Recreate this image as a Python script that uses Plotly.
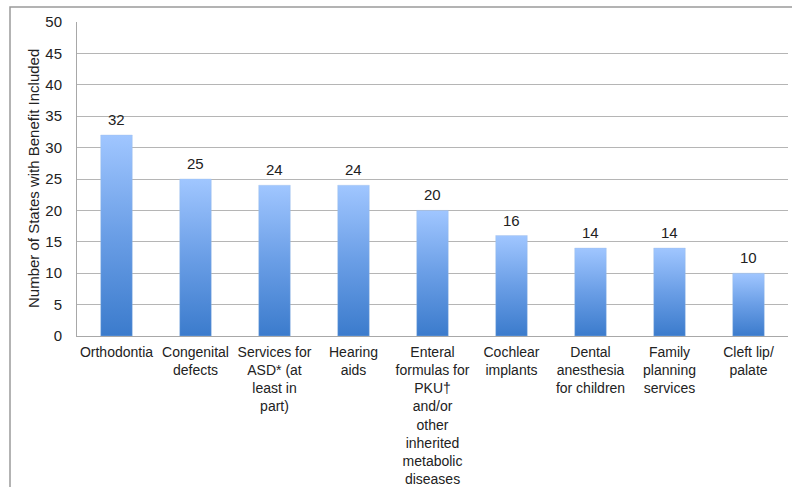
import plotly.graph_objects as go

# Benefits and the number of states that include each one
categories = [
    "Orthodontia",
    "Congenital<br>defects",
    "Services for<br>ASD* (at<br>least in<br>part)",
    "Hearing<br>aids",
    "Enteral<br>formulas for<br>PKU†<br>and/or<br>other<br>inherited<br>metabolic<br>diseases",
    "Cochlear<br>implants",
    "Dental<br>anesthesia<br>for children",
    "Family<br>planning<br>services",
    "Cleft lip/<br>palate",
]
states = [32, 25, 24, 24, 20, 16, 14, 14, 10]
y_ticks = [0, 5, 10, 15, 20, 25, 30, 35, 40, 45, 50]
y_title = "Number of States with Benefit Included"

W, H = 792, 487
ML, MR, MT, MB = 77, 4, 22, 151
BAR_HALF = 0.2
FONT = "Liberation Sans, Arial, sans-serif"
TXT = "#222222"

fig = go.Figure()

# Each bar is a filled polygon so it can carry its own vertical gradient
for i, v in enumerate(states):
    x0, x1 = i - BAR_HALF, i + BAR_HALF
    fig.add_trace(go.Scatter(
        x=[x0, x1, x1, x0, x0],
        y=[0, 0, v, v, 0],
        mode="lines",
        line=dict(width=0.6, color="rgba(160,190,230,0.6)"),
        fill="toself",
        fillgradient=dict(
            type="vertical",
            colorscale=[[0, "#3b7bcc"], [0.5, "#6a9ee6"], [1, "#a0c6ff"]],
        ),
        hoverinfo="skip",
        showlegend=False,
    ))

# Value labels above the bars
for i, v in enumerate(states):
    fig.add_annotation(
        x=i, y=v, text=str(v), showarrow=False,
        xanchor="center", yanchor="bottom", yshift=5,
        font=dict(family=FONT, size=15, color=TXT),
    )

pw = W - ML - MR
ph = H - MT - MB


def px_x(p):
    return (p - ML) / pw


def px_y(p):
    return (H - MB - p) / ph


# Vertical axis title
fig.add_annotation(
    xref="paper", yref="paper", x=px_x(33), y=0.5,
    text=y_title, textangle=-90, showarrow=False,
    xanchor="center", yanchor="middle",
    font=dict(family=FONT, size=15, color=TXT),
)

# Outer chart frame (only its top and left edges fall inside the page)
fig.add_shape(
    type="rect", xref="paper", yref="paper",
    x0=px_x(10), x1=px_x(840), y0=px_y(7), y1=px_y(540),
    line=dict(color="#9a9a9a", width=1.5), layer="below",
)

fig.update_layout(
    width=W, height=H,
    margin=dict(l=ML, r=MR, t=MT, b=MB, autoexpand=False),
    paper_bgcolor="white",
    plot_bgcolor="white",
    font=dict(family=FONT, size=15, color=TXT),
    xaxis=dict(
        range=[-0.5, len(states) - 0.5],
        tickvals=list(range(len(categories))),
        ticktext=categories,
        showgrid=False,
        zeroline=False,
        showline=True,
        linecolor="#a8a8a8",
        linewidth=1,
        ticks="",
        ticklabelstandoff=3,
        tickfont=dict(family=FONT, size=14, color=TXT),
        automargin=False,
        fixedrange=True,
    ),
    yaxis=dict(
        range=[0, 50],
        tickvals=y_ticks,
        showgrid=True,
        gridcolor="#b5b5b5",
        gridwidth=1,
        zeroline=False,
        showline=True,
        linecolor="#a8a8a8",
        linewidth=1,
        ticks="",
        ticklabelstandoff=11,
        tickfont=dict(family=FONT, size=15, color=TXT),
        automargin=False,
        fixedrange=True,
    ),
)

fig.write_html("out.html")
